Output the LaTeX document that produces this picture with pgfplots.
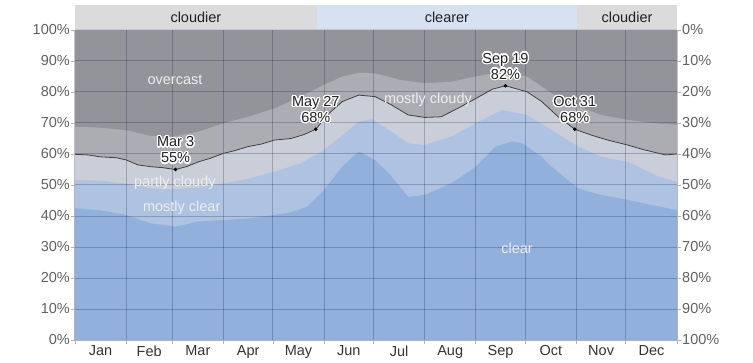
\documentclass[border=0pt]{standalone}
\usepackage{pgfplots}
\pgfplotsset{compat=1.18}
\usepackage{fontspec}
\setmainfont{Liberation Sans}
\usepackage{contour}
\contourlength{1.3pt}
\contournumber{20}

\definecolor{overcast}{RGB}{146,148,153}
\definecolor{mcloudy}{RGB}{171,173,178}
\definecolor{pcloudy}{RGB}{201,206,216}
\definecolor{mclear}{RGB}{174,195,226}
\definecolor{clearc}{RGB}{145,176,220}
\definecolor{hdrgray}{RGB}{219,219,219}
\definecolor{hdrblue}{RGB}{214,225,242}
\definecolor{lbl}{RGB}{34,34,34}

\tikzset{ann/.style={font=\fontsize{14.5}{16}\selectfont, text=lbl, align=center, anchor=south, inner sep=0pt, yshift=5pt},
  band/.style={font=\fontsize{14.5}{16}\selectfont, text=white!93!black}}

\begin{document}
\begin{tikzpicture}
\useasboundingbox (-75pt,-22pt) rectangle (678pt,340pt);
\begin{axis}[
  at={(0pt,0pt)}, anchor=south west, scale only axis,
  width=602pt, height=310pt,
  xmin=0, xmax=365, ymin=0, ymax=100, clip=false,
  axis on top,
  axis line style={draw=none},
  xtick={0,31,59,90,120,151,181,212,243,273,304,334,365},
  xticklabels={},
  extra x ticks={15.5,45,74.5,105,135.5,166,196.5,227.5,258,288.5,319,349.5},
  extra x tick labels={Jan,Feb,Mar,Apr,May,Jun,Jul,Aug,Sep,Oct,Nov,Dec},
  extra x tick style={grid=none, major tick length=0pt, xticklabel style={yshift=-2pt}},
  ytick={0,10,20,30,40,50,60,70,80,90,100},
  yticklabels={0\%,10\%,20\%,30\%,40\%,50\%,60\%,70\%,80\%,90\%,100\%},
  ytick pos=left, xtick pos=bottom, tick align=outside, major tick length=4pt,
  tick style={black!30, line width=0.8pt},
  grid=major, major grid style={black!80!blue, opacity=0.22, line width=1pt},
  ticklabel style={font=\fontsize{14.5}{16}\selectfont},
  yticklabel style={text=black!62, inner sep=1pt},
  xticklabel style={text=black!80},
  /pgf/number format/assume math mode=true,
]
% header bands
\fill[hdrgray] (axis cs:0,100.3) rectangle (axis cs:146.6,108.1);
\fill[hdrblue] (axis cs:146.6,100.3) rectangle (axis cs:304.4,108.1);
\fill[hdrgray] (axis cs:304.4,100.3) rectangle (axis cs:365,108.1);
\node[font=\fontsize{14.5}{16}\selectfont, text=lbl] at (axis cs:73.3,104.2) {cloudier};
\node[font=\fontsize{14.5}{16}\selectfont, text=lbl] at (axis cs:225.5,104.2) {clearer};
\node[font=\fontsize{14.5}{16}\selectfont, text=lbl] at (axis cs:334.7,104.2) {cloudier};

% overcast (top of stack)
\addplot[fill=overcast, draw=none] coordinates {(0,100) (365,100)} \closedcycle;
% mostly cloudy: below B4
\addplot[fill=mcloudy, draw=none] table {
x y
0 68.8
15 68.5
31 67.7
46 65.8
59 65.6
75 67.2
90 69.9
105 72.0
121 74.7
137 78.5
151 82.3
162 85.0
172 86.2
182 86.0
197 83.9
212 82.8
228 83.3
243 85.0
259 86.6
274 85.0
289 79.6
305 75.3
319 72.6
335 71.0
350 70.0
365 69.4
} \closedcycle;
% partly cloudy: below B3
\addplot[fill=pcloudy, draw=none] table {
x y
0 59.9
8 59.7
15 59.1
25 58.8
31 58.1
38 56.5
46 55.9
53 55.6
61 55.0
68 56.0
75 57.5
82 58.6
90 60.2
97 61.1
105 62.4
113 63.2
121 64.5
131 65.0
139 66.3
146 68.0
154 73.1
162 76.9
172 79.0
182 78.5
192 75.8
202 72.6
212 71.8
222 72.0
232 74.7
243 77.9
253 80.9
261 82.0
274 80.1
283 76.9
293 72.0
303 68.0
313 66.1
323 64.5
335 62.9
344 61.5
358 59.7
365 60.0
} \closedcycle;
% mostly clear: below B2
\addplot[fill=mclear, draw=none] table {
x y
0 51.6
15 51.4
31 50.5
46 48.9
59 48.6
75 49.2
90 50.5
105 52.0
121 54.3
137 57.0
151 61.3
162 66.0
172 70.4
180 71.2
192 67.2
202 63.4
212 62.9
228 65.6
243 69.9
259 74.2
274 72.6
289 67.7
305 62.4
319 59.1
335 57.5
354 52.7
365 51.0
} \closedcycle;
% clear: below B1
\addplot[fill=clearc, draw=none] table {
x y
0 42.5
15 41.9
31 40.3
46 37.6
61 36.6
75 38.2
90 38.7
105 39.2
121 40.3
131 41.2
141 43.0
151 48.4
162 55.9
172 60.8
182 58.0
192 52.7
202 46.2
212 46.8
228 50.5
243 55.9
255 62.4
265 64.0
271 63.5
283 59.1
289 55.9
305 48.9
319 46.8
335 45.2
350 43.5
365 41.9
} \closedcycle;

\coordinate (pMar) at (axis cs:61,55);
\coordinate (pMay) at (axis cs:146,68);
\coordinate (pSep) at (axis cs:261,82);
\coordinate (pOct) at (axis cs:303,68);
\coordinate (lOvc) at (axis cs:60.6,84);
\coordinate (lMcl) at (axis cs:214,77.6);
\coordinate (lPcl) at (axis cs:60.6,50.6);
\coordinate (lMcr) at (axis cs:64.7,42.6);
\coordinate (lClr) at (axis cs:268,29.7);
\end{axis}

\begin{axis}[
  at={(0pt,0pt)}, anchor=south west, scale only axis,
  width=602pt, height=310pt,
  xmin=0, xmax=365, ymin=0, ymax=100,
  axis lines=none, clip=false,
]
% B3 line (drawn over the grid)
\addplot[black!75, line width=0.8pt] table {
x y
0 59.9
8 59.7
15 59.1
25 58.8
31 58.1
38 56.5
46 55.9
53 55.6
61 55.0
68 56.0
75 57.5
82 58.6
90 60.2
97 61.1
105 62.4
113 63.2
121 64.5
131 65.0
139 66.3
146 68.0
154 73.1
162 76.9
172 79.0
182 78.5
192 75.8
202 72.6
212 71.8
222 72.0
232 74.7
243 77.9
253 80.9
261 82.0
274 80.1
283 76.9
293 72.0
303 68.0
313 66.1
323 64.5
335 62.9
344 61.5
358 59.7
365 60.0
};
% annotated points
\addplot[only marks, mark=*, mark size=1.6pt, black] coordinates {(61,55) (146,68) (261,82) (303,68)};
\end{axis}

\begin{axis}[
  at={(0pt,0pt)}, anchor=south west, scale only axis,
  width=602pt, height=310pt,
  xmin=0, xmax=365, ymin=0, ymax=100, y dir=reverse,
  axis y line*=right, axis x line=none,
  axis line style={draw=none},
  ytick={0,10,20,30,40,50,60,70,80,90,100},
  yticklabels={0\%,10\%,20\%,30\%,40\%,50\%,60\%,70\%,80\%,90\%,100\%},
  tick align=outside, major tick length=4pt,
  tick style={black!30, line width=0.8pt},
  ticklabel style={font=\fontsize{14.5}{16}\selectfont},
  yticklabel style={text=black!62, inner sep=1pt},
]
\addplot[draw=none] coordinates {(0,0) (365,100)};
\end{axis}

\node[ann] at (pMar) {\contour{white}{Mar 3}\\\contour{white}{55\%}};
\node[ann] at (pMay) {\contour{white}{May 27}\\\contour{white}{68\%}};
\node[ann] at (pSep) {\contour{white}{Sep 19}\\\contour{white}{82\%}};
\node[ann] at (pOct) {\contour{white}{Oct 31}\\\contour{white}{68\%}};
\node[band] at (lOvc) {overcast};
\node[band] at (lMcl) {mostly cloudy};
\node[band] at (lPcl) {partly cloudy};
\node[band] at (lMcr) {mostly clear};
\node[band] at (lClr) {clear};
\end{tikzpicture}
\end{document}
